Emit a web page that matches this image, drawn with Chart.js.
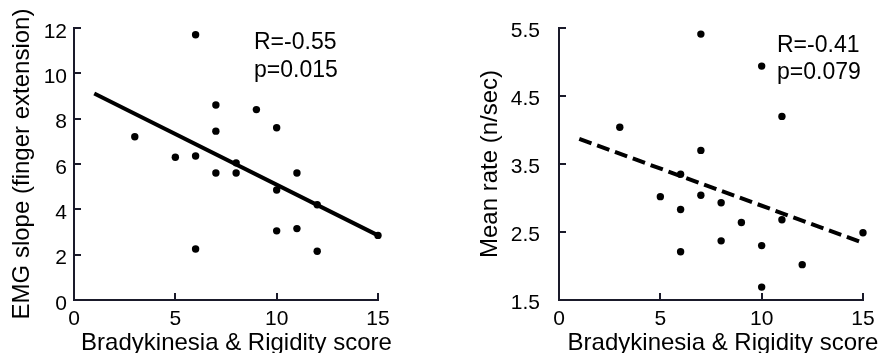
<!DOCTYPE html>
<html>
<head>
<meta charset="utf-8">
<script src="https://cdn.jsdelivr.net/npm/chart.js@4/dist/chart.umd.min.js"></script>
<style>
  html, body { margin: 0; padding: 0; background: #fff; }
  .panel { position: absolute; top: 0; width: 440px; height: 353px; }
  #left { left: 0; }
  #right { left: 440px; }
</style>
</head>
<body>
<div class="panel" id="left"><canvas id="emgChart" width="440" height="353"></canvas></div>
<div class="panel" id="right"><canvas id="rateChart" width="440" height="353"></canvas></div>
<script>
// Bradykinesia & rigidity score on the x axis (shared tick labels)
const xTicks = [0, 5, 10, 15];
const xTitle = 'Bradykinesia & Rigidity score';

// Panel 1: EMG slope during finger extension
const emgScore = [3, 5, 6, 6, 6, 7, 7, 7, 8, 8, 9, 10, 10, 10, 11, 11, 12, 12, 15];
const emgSlope = [7.2, 6.3, 11.7, 6.35, 2.25, 8.6, 7.45, 5.6, 6.05, 5.6, 8.4, 7.6, 4.85, 3.05, 5.6, 3.15, 4.2, 2.15, 2.85];
const emgFitX = [1, 15];
const emgFitY = [9.11, 2.85];
const emgTicks = [0, 2, 4, 6, 8, 10, 12];
const emgTitle = 'EMG slope (finger extension)';
const emgStats = ['R=-0.55', 'p=0.015'];

// Panel 2: mean firing rate
const rateScore = [3, 5, 6, 6, 6, 7, 7, 7, 8, 8, 9, 10, 10, 10, 11, 11, 12, 15];
const rateValue = [4.04, 3.02, 3.35, 2.83, 2.21, 5.41, 3.70, 3.04, 2.93, 2.37, 2.64, 4.94, 2.30, 1.69, 4.20, 2.68, 2.02, 2.49];
const rateFitX = [1, 15];
const rateFitY = [3.87, 2.34];
const rateTicks = [1.5, 2.5, 3.5, 4.5, 5.5];
const rateTitle = 'Mean rate (n/sec)';
const rateStats = ['R=-0.41', 'p=0.079'];

const FONT = '"Liberation Sans", Arial, Helvetica, sans-serif';
const FRAME_COLOR = '#1a1a2a';

// L-shaped axis frame with short inward tick marks at every scale tick
const axisPlugin = {
  id: 'frameAxes',
  afterDraw(chart) {
    const ctx = chart.ctx;
    const a = chart.chartArea;
    const sx = chart.scales.x;
    const sy = chart.scales.y;
    const w = 2, tick = 7;
    const left = Math.round(a.left);
    const top = Math.round(a.top);
    const right = Math.round(a.right);
    const bottom = Math.round(a.bottom);
    ctx.save();
    ctx.fillStyle = FRAME_COLOR;
    ctx.fillRect(left - 1, top - 1, w, bottom - top + 2);
    ctx.fillRect(left - 1, bottom - 1, right - left + 2, w);
    sx.ticks.forEach(t => {
      const px = Math.round(sx.getPixelForValue(t.value));
      ctx.fillRect(px - 1, bottom - tick, w, tick);
    });
    sy.ticks.forEach(t => {
      const py = Math.round(sy.getPixelForValue(t.value));
      ctx.fillRect(left, py - 1, tick, w);
    });
    ctx.restore();
  }
};

// Draws free text (x-axis caption, correlation statistics) on top of the chart
const captionPlugin = {
  id: 'captions',
  afterDraw(chart, args, opts) {
    const ctx = chart.ctx;
    ctx.save();
    ctx.fillStyle = '#000';
    for (const c of opts.items || []) {
      ctx.font = c.size + 'px ' + FONT;
      ctx.textAlign = c.align || 'left';
      ctx.textBaseline = 'alphabetic';
      ctx.fillText(c.text, c.x, c.y);
    }
    ctx.restore();
  }
};

const toPoints = (xs, ys) => xs.map((v, i) => ({ x: v, y: ys[i] }));

// keep tick-label overhang from pushing the plot area around
const noOverhang = s => { s.paddingTop = 0; s.paddingBottom = 0; s.paddingLeft = 0; s.paddingRight = 0; };

function drawPanel(canvasId, o) {
  return new Chart(document.getElementById(canvasId), {
    type: 'scatter',
    data: {
      datasets: [
        {
          data: toPoints(o.x, o.y),
          pointRadius: 3.7,
          pointBackgroundColor: '#000',
          pointBorderWidth: 0,
          clip: false,
          order: 0
        },
        {
          data: toPoints(o.fitX, o.fitY),
          showLine: true,
          pointRadius: 0,
          borderColor: '#000',
          borderWidth: 4,
          borderDash: o.dash,
          clip: false,
          order: 1
        }
      ]
    },
    options: {
      responsive: false,
      animation: false,
      devicePixelRatio: 1,
      layout: { padding: { left: 0, top: 28, right: o.padRight, bottom: 0 } },
      plugins: {
        legend: { display: false },
        tooltip: { enabled: false },
        captions: { items: o.captions }
      },
      scales: {
        x: {
          type: 'linear',
          min: 0,
          max: 15,
          afterFit: s => { s.height = 53; noOverhang(s); },
          afterBuildTicks: s => { s.ticks = xTicks.map(v => ({ value: v })); },
          grid: { display: false, drawTicks: false },
          border: { display: false },
          ticks: { padding: 7, color: '#000', maxRotation: 0, autoSkip: false, font: { family: FONT, size: 21 } }
        },
        y: {
          type: 'linear',
          min: o.yTicks[0],
          max: o.yTicks[o.yTicks.length - 1],
          afterFit: s => { s.width = o.axisLeft; noOverhang(s); },
          afterBuildTicks: s => { s.ticks = o.yTicks.map(v => ({ value: v })); },
          grid: { display: false, drawTicks: false },
          border: { display: false },
          ticks: { padding: o.yPad, labelOffset: o.yLabelOffset, color: '#000', autoSkip: false, font: { family: FONT, size: 21 } },
          title: {
            display: true,
            text: o.yTitle,
            color: '#000',
            padding: { top: o.yTitlePad, bottom: 0 },
            font: { family: FONT, size: 24, lineHeight: 1 }
          }
        }
      }
    },
    plugins: [axisPlugin, captionPlugin]
  });
}

drawPanel('emgChart', {
  x: emgScore, y: emgSlope, fitX: emgFitX, fitY: emgFitY, dash: [],
  yTicks: emgTicks, yTitle: emgTitle,
  axisLeft: 74, padRight: 62, yPad: 7, yLabelOffset: 4, yTitlePad: 10,
  captions: [
    { text: xTitle, x: 236.5, y: 350, size: 24, align: 'center' },
    { text: emgStats[0], x: 254, y: 49, size: 23 },
    { text: emgStats[1], x: 254, y: 77, size: 23 }
  ]
});

drawPanel('rateChart', {
  x: rateScore, y: rateValue, fitX: rateFitX, fitY: rateFitY, dash: [13, 6],
  yTicks: rateTicks, yTitle: rateTitle,
  axisLeft: 119, padRight: 17, yPad: 19, yLabelOffset: 3, yTitlePad: 38,
  captions: [
    { text: xTitle, x: 283, y: 350, size: 24, align: 'center' },
    { text: rateStats[0], x: 337, y: 51.5, size: 23 },
    { text: rateStats[1], x: 337, y: 78.5, size: 23 }
  ]
});
</script>
</body>
</html>
